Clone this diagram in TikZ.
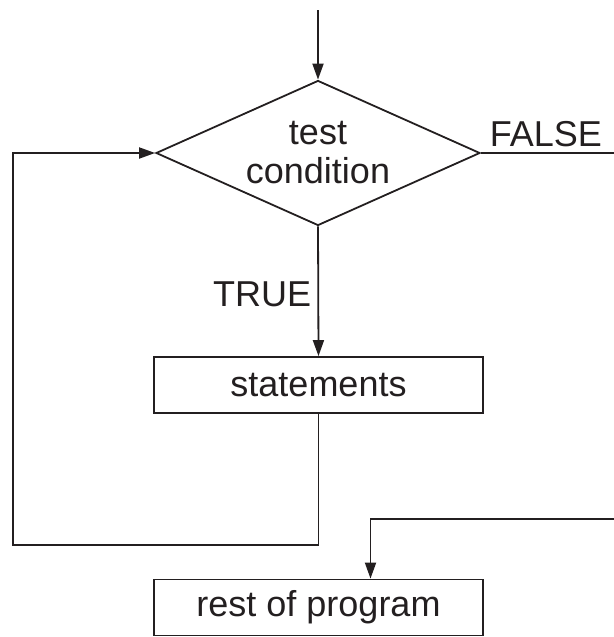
\documentclass[tikz,border=0pt]{standalone}
\usepackage{fontspec}
\setmainfont{Liberation Sans}
\usetikzlibrary{shapes.geometric,arrows.meta}
\definecolor{ink}{HTML}{231F20}
\begin{document}
\begin{tikzpicture}[x=1pt,y=-1pt,
  line width=1.8pt, color=ink,
  every node/.style={font=\fontsize{36}{39}\selectfont, text=ink},
  arr/.style={-{Triangle[length=16pt,width=11pt]}},
  decision/.style={draw, diamond, shape aspect=2.25, inner sep=0pt,
    minimum width=324pt, minimum height=145pt, align=center},
  procbox/.style={draw, rectangle, inner sep=0pt,
    minimum width=329pt, minimum height=56pt},
  lbl/.style={inner sep=0pt}]
\useasboundingbox (0,0) rectangle (613,637);
\node[decision] (d) at (318,153) {test\\condition};
\node[procbox] (s) at (318.5,385) {statements};
\node[procbox] (r) at (318.5,607.5) {rest of program};
\node[lbl, anchor=base west] (f) at (489,146) {FALSE};
\node[lbl, anchor=base east] (t) at (312,306) {TRUE};
\coordinate (top) at (318,10);
\coordinate (lb) at (13,545);
\coordinate (fe) at (615,153);
\coordinate (fr) at (615,519);
\draw[arr] (top) -- (d.north);
\draw[arr] (d.south) -- (s.north);
\draw[arr] (s.south) |- (lb) |- (d.west);
\draw (d.east) -- (fe);
\draw[arr] (fr) -| ([xshift=52pt]r.north);
\end{tikzpicture}
\end{document}
